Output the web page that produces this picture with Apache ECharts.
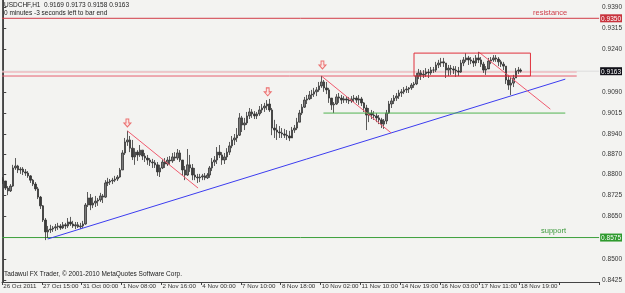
<!DOCTYPE html>
<html><head><meta charset="utf-8">
<script src="https://cdn.jsdelivr.net/npm/echarts@6/dist/echarts.min.js"></script>
<style>html,body{margin:0;padding:0;background:#f3f3f1}#c{width:625px;height:293px}</style>
</head><body><div id="c"></div>
<script>
// ---- data (2-hour bars, USDCHF) ----
const xLabels = ['26 Oct 2011','27 Oct 15:00','31 Oct 00:00','1 Nov 08:00','2 Nov 16:00','4 Nov 00:00','7 Nov 10:00','8 Nov 18:00','10 Nov 02:00','11 Nov 10:00','14 Nov 19:00','16 Nov 03:00','17 Nov 11:00','18 Nov 19:00'];
const firstOpen = 0.8782;
const closes = [
0.8775,0.8750,0.8740,0.8757,0.8821,0.8828,0.8814,0.8817,0.8807,0.8803,
0.8793,0.8778,0.8764,0.8747,0.8718,0.8687,0.8637,0.8595,0.8602,0.8605,
0.8609,0.8613,0.8616,0.8609,0.8620,0.8616,0.8630,0.8623,0.8616,0.8620,
0.8613,0.8616,0.8623,0.8690,0.8715,0.8690,0.8697,0.8704,0.8708,0.8722,
0.8718,0.8768,0.8771,0.8775,0.8778,0.8782,0.8789,0.8814,0.8874,0.8913,
0.8920,0.8891,0.8860,0.8877,0.8867,0.8884,0.8863,0.8856,0.8849,0.8842,
0.8839,0.8832,0.8807,0.8821,0.8842,0.8835,0.8849,0.8846,0.8860,0.8856,
0.8874,0.8849,0.8814,0.8796,0.8832,0.8821,0.8796,0.8789,0.8786,0.8789,
0.8793,0.8786,0.8796,0.8821,0.8842,0.8849,0.8877,0.8867,0.8849,0.8860,
0.8877,0.8899,0.8920,0.8927,0.8937,0.8998,0.8973,0.8980,0.9005,0.9019,
0.9012,0.9005,0.9012,0.9026,0.9033,0.9040,0.9047,0.9026,0.8962,0.8955,
0.8948,0.8945,0.8941,0.8937,0.8934,0.8927,0.8955,0.8962,0.8983,0.9015,
0.9036,0.9061,0.9065,0.9079,0.9082,0.9090,0.9097,0.9111,0.9125,0.9104,
0.9097,0.9068,0.9044,0.9047,0.9072,0.9068,0.9061,0.9065,0.9061,0.9058,
0.9065,0.9068,0.9061,0.9065,0.9051,0.9033,0.9008,0.9015,0.9008,0.9005,
0.8998,0.8991,0.8976,0.8987,0.9015,0.9047,0.9058,0.9068,0.9075,0.9086,
0.9090,0.9097,0.9100,0.9104,0.9114,0.9118,0.9146,0.9157,0.9150,0.9153,
0.9160,0.9157,0.9167,0.9167,0.9185,0.9192,0.9196,0.9192,0.9167,0.9174,
0.9171,0.9167,0.9164,0.9160,0.9192,0.9203,0.9210,0.9203,0.9199,0.9192,
0.9210,0.9203,0.9188,0.9167,0.9171,0.9199,0.9203,0.9210,0.9206,0.9196,
0.9188,0.9181,0.9132,0.9114,0.9121,0.9139,0.9164,0.9167,0.9163];
const highs = [
0.8789,0.8771,0.8757,0.8764,0.8832,0.8856,0.8832,0.8824,0.8824,0.8817,
0.8810,0.8796,0.8782,0.8771,0.8754,0.8722,0.8690,0.8644,0.8616,0.8620,
0.8616,0.8623,0.8627,0.8623,0.8630,0.8627,0.8644,0.8648,0.8634,0.8630,
0.8630,0.8627,0.8634,0.8697,0.8736,0.8729,0.8718,0.8722,0.8715,0.8733,
0.8729,0.8778,0.8786,0.8782,0.8786,0.8793,0.8796,0.8821,0.8884,0.8927,
0.8952,0.8934,0.8920,0.8891,0.8884,0.8902,0.8884,0.8874,0.8867,0.8856,
0.8853,0.8849,0.8842,0.8832,0.8853,0.8856,0.8860,0.8863,0.8874,0.8877,
0.8888,0.8884,0.8849,0.8828,0.8888,0.8867,0.8835,0.8821,0.8800,0.8800,
0.8800,0.8803,0.8803,0.8828,0.8856,0.8863,0.8895,0.8902,0.8877,0.8874,
0.8891,0.8913,0.8934,0.8941,0.8962,0.9015,0.9005,0.8998,0.9019,0.9033,
0.9029,0.9022,0.9019,0.9040,0.9047,0.9051,0.9061,0.9065,0.9033,0.8991,
0.8976,0.8969,0.8962,0.8959,0.8955,0.8952,0.8966,0.8973,0.8998,0.9026,
0.9047,0.9072,0.9079,0.9093,0.9097,0.9104,0.9107,0.9125,0.9146,0.9132,
0.9125,0.9104,0.9068,0.9054,0.9082,0.9086,0.9079,0.9075,0.9075,0.9072,
0.9075,0.9079,0.9075,0.9079,0.9072,0.9054,0.9044,0.9033,0.9026,0.9022,
0.9015,0.9008,0.8998,0.8994,0.9026,0.9058,0.9068,0.9079,0.9086,0.9097,
0.9100,0.9107,0.9111,0.9107,0.9121,0.9125,0.9157,0.9171,0.9167,0.9167,
0.9174,0.9171,0.9178,0.9178,0.9196,0.9203,0.9210,0.9210,0.9192,0.9185,
0.9185,0.9181,0.9181,0.9178,0.9203,0.9213,0.9227,0.9217,0.9213,0.9210,
0.9220,0.9231,0.9213,0.9196,0.9181,0.9210,0.9213,0.9220,0.9220,0.9213,
0.9203,0.9196,0.9181,0.9150,0.9143,0.9150,0.9174,0.9178,0.9173];
const lows = [
0.8764,0.8743,0.8725,0.8736,0.8754,0.8814,0.8803,0.8800,0.8796,0.8793,
0.8786,0.8768,0.8757,0.8740,0.8711,0.8676,0.8630,0.8566,0.8573,0.8591,
0.8595,0.8598,0.8602,0.8602,0.8605,0.8605,0.8609,0.8616,0.8609,0.8605,
0.8609,0.8605,0.8609,0.8620,0.8683,0.8672,0.8679,0.8683,0.8687,0.8701,
0.8697,0.8715,0.8757,0.8761,0.8764,0.8771,0.8775,0.8786,0.8814,0.8867,
0.8899,0.8877,0.8849,0.8832,0.8846,0.8860,0.8849,0.8842,0.8832,0.8828,
0.8821,0.8821,0.8793,0.8789,0.8817,0.8821,0.8828,0.8832,0.8839,0.8846,
0.8849,0.8842,0.8793,0.8778,0.8793,0.8807,0.8778,0.8778,0.8768,0.8771,
0.8778,0.8778,0.8782,0.8786,0.8810,0.8828,0.8835,0.8856,0.8832,0.8835,
0.8849,0.8867,0.8891,0.8902,0.8913,0.8934,0.8948,0.8955,0.8973,0.8994,
0.8998,0.8994,0.8994,0.9005,0.9015,0.9019,0.9026,0.9019,0.8937,0.8927,
0.8920,0.8927,0.8927,0.8927,0.8920,0.8916,0.8934,0.8945,0.8955,0.8983,
0.9008,0.9033,0.9047,0.9061,0.9065,0.9072,0.9075,0.9090,0.9104,0.9090,
0.9082,0.9051,0.9026,0.9015,0.9044,0.9051,0.9047,0.9051,0.9051,0.9047,
0.9051,0.9054,0.9051,0.9044,0.9040,0.9019,0.8955,0.8983,0.8994,0.8991,
0.8983,0.8976,0.8962,0.8959,0.8976,0.9012,0.9033,0.9047,0.9058,0.9065,
0.9072,0.9082,0.9086,0.9086,0.9097,0.9104,0.9114,0.9135,0.9132,0.9139,
0.9143,0.9139,0.9150,0.9157,0.9160,0.9174,0.9178,0.9178,0.9139,0.9146,
0.9150,0.9153,0.9143,0.9146,0.9157,0.9181,0.9196,0.9185,0.9188,0.9178,
0.9181,0.9192,0.9178,0.9157,0.9150,0.9174,0.9188,0.9196,0.9196,0.9181,
0.9178,0.9167,0.9118,0.9097,0.9079,0.9107,0.9139,0.9153,0.9158];
const priceTicks = [0.8425,0.8500,0.8650,0.8725,0.8800,0.8870,0.8940,0.9015,0.9090,0.9240,0.9315,0.9390];
const resistance = 0.9350, support = 0.8575, bid = 0.9163;
// drawn objects, in (bar index, price)
const blueTrend = [[17.9,0.8570],[225.9,0.9135]];
const redDown1 = [[49.9,0.8952],[78.3,0.8750]];
const redDown2 = [[127.9,0.9146],[155.9,0.8945]];
const redDown3 = [[191.1,0.9231],[219.9,0.9029]];
const greenLevel = [[128.7,0.9015],[225.9,0.9015]];
const box = [[165.1,0.9227],[211.9,0.9227],[211.9,0.9146],[165.1,0.9146],[165.1,0.9227]];
const pinkLine1 = [[-0.5,0.9160],[230.5,0.9160]];
const pinkLine2 = [[-0.5,0.9146],[230.5,0.9146]];
const arrows = [[49.9,0.8980],[106.3,0.9090],[128.3,0.9185]];

const nCats = 240;
const cats = Array.from({length:nCats},(_,i)=>i);
const candles = closes.map((c,i)=>[i===0?firstOpen:closes[i-1], c, lows[i], highs[i]]);
const fullLine = v=>[[-0.5,v],[nCats-0.5,v]];

const F = 'Liberation Sans, Arial, sans-serif';
const lineS = (data,color,w,z)=>({type:'line',xAxisIndex:1,yAxisIndex:0,data,symbol:'none',silent:true,
  lineStyle:{color,width:w||1},z:z||3,animation:false});
const YMIN = 0.84179, YMAX = 0.94147;
const boxStyle = bg=>({backgroundColor:bg,color:'#fff',padding:[1,1,0,1],fontSize:6.5,fontFamily:F});

const chart = echarts.init(document.getElementById('c'),null,{renderer:'canvas'});
chart.setOption({
  animation:false,
  backgroundColor:'#f3f3f1',
  grid:{left:2,right:24,top:0,bottom:11,show:false},
  xAxis:[{type:'category',data:cats,boundaryGap:true,
    axisLine:{show:true,lineStyle:{color:'#444',width:1}},
    axisTick:{show:true,interval:15,length:3,inside:false,lineStyle:{color:'#444'}},
    axisLabel:{interval:15,align:'left',margin:1,fontSize:6.2,fontFamily:F,color:'#333',
      formatter:(v,i)=>xLabels[Math.round(i/16)]||''},
    splitLine:{show:false}},
   {type:'value',min:-0.5,max:nCats-0.5,show:false}],
  yAxis:[{type:'value',position:'right',min:YMIN,max:YMAX,
    axisLine:{show:true,lineStyle:{color:'#444'}},
    axisTick:{show:true,length:3,customValues:priceTicks,lineStyle:{color:'#444'}},
    axisLabel:{show:true,customValues:priceTicks,margin:3,fontSize:6.5,fontFamily:F,color:'#333',
      formatter:v=>v.toFixed(4)},
    splitLine:{show:false}},
   {type:'value',position:'left',min:YMIN,max:YMAX,
    axisLine:{show:true,lineStyle:{color:'#555'}},axisTick:{show:false},axisLabel:{show:false},splitLine:{show:false}},
   {type:'value',position:'right',min:YMIN,max:YMAX,
    axisLine:{show:false},axisTick:{show:false},splitLine:{show:false},
    axisLabel:{show:true,customValues:[resistance,bid,support],margin:1,
      formatter:v=>{const s=v.toFixed(4);const k=Math.abs(v-resistance)<1e-6?'r':(Math.abs(v-support)<1e-6?'g':'b');return '{'+k+'|'+s+'}';},
      rich:{r:boxStyle('#c8323c'),g:boxStyle('#2e9a2e'),b:boxStyle('#101018')}}}],
  series:[
    lineS(fullLine(bid),'#dedede',1,1),
    lineS(fullLine(resistance),'#d23c48',1,2),
    lineS(fullLine(support),'#3ca03c',1,2),
    lineS(pinkLine1,'#f2a6ae',1),
    lineS(pinkLine2,'#e86070',1),
    {type:'candlestick',xAxisIndex:0,yAxisIndex:0,data:candles,barWidth:2,z:4,
      itemStyle:{color:'#7a7a7a',color0:'#3a3a3a',borderColor:'#333',borderColor0:'#333',borderWidth:0.8}},
    lineS(blueTrend,'#3c3cf0',1,5),
    lineS(redDown1,'#f05a6e',1,5),
    lineS(redDown2,'#f05a6e',1,5),
    lineS(redDown3,'#f05a6e',1,5),
    lineS(greenLevel,'#50b450',1,5),
    lineS(box,'#e0303c',1,5),
    {type:'scatter',xAxisIndex:1,yAxisIndex:0,data:arrows,silent:true,z:6,
      symbol:'path://M3,0 L7,0 L7,5 L10,5 L5,10 L0,5 L3,5 Z',symbolSize:[7,8],
      itemStyle:{color:'#fbe2e2',borderColor:'#e85050',borderWidth:1}}
  ],
  graphic:[
    {type:'text',left:4,top:2,style:{text:'USDCHF,H1  0.9169 0.9173 0.9158 0.9163',font:'6.5px '+F,fill:'#222'}},
    {type:'text',left:4,top:10,style:{text:'0 minutes -3 seconds left to bar end',font:'6.5px '+F,fill:'#222'}},
    {type:'text',left:4,top:271,style:{text:'Tadawul FX Trader, © 2001-2010 MetaQuotes Software Corp.',font:'6.5px '+F,fill:'#222'}},
    {type:'text',left:533,top:9,style:{text:'resistance',font:'7.5px '+F,fill:'#d0404c'}},
    {type:'text',left:541,top:227,style:{text:'support',font:'7.5px '+F,fill:'#3c9a3c'}}
  ]
});
</script></body></html>
